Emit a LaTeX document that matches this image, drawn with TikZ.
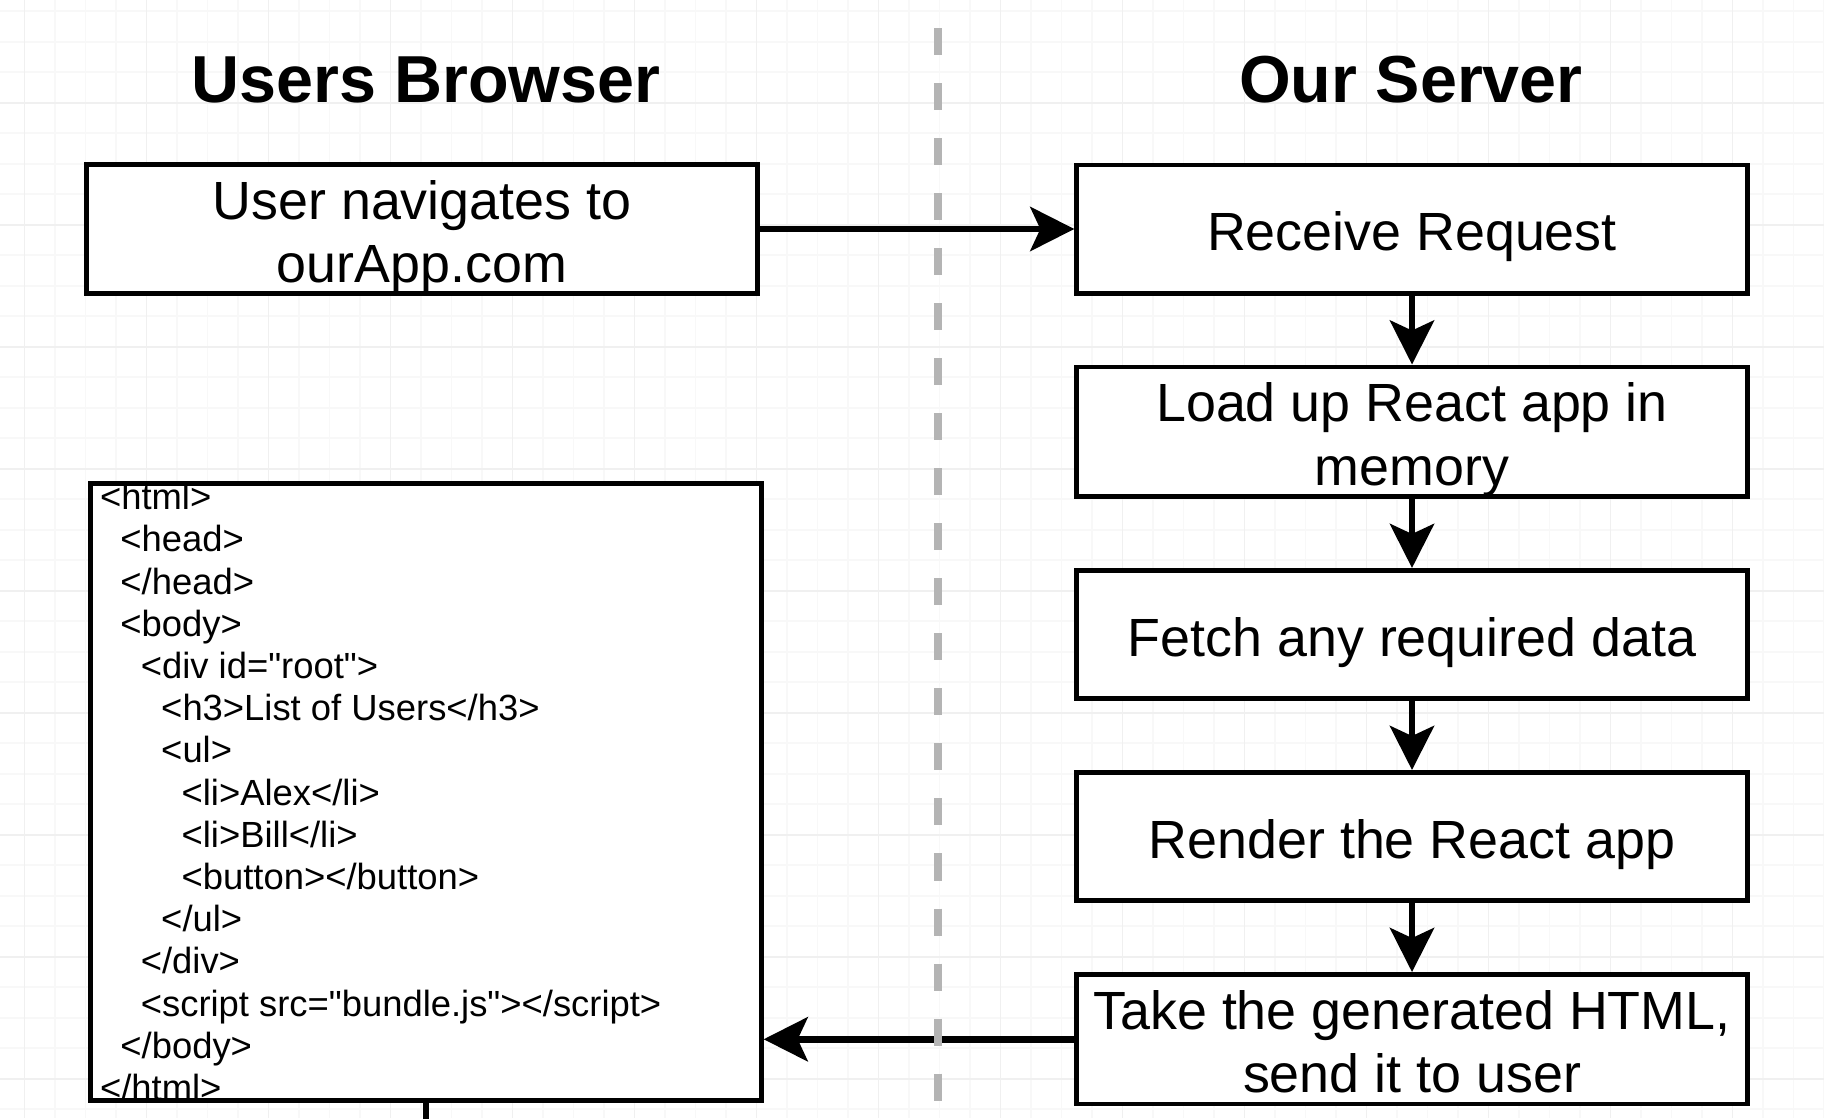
\documentclass[tikz,border=0pt]{standalone}
\usepackage{fontspec}
\setmainfont{Liberation Sans}
\newfontfamily\codefont{Liberation Sans}
\usepackage{tikz}
\usetikzlibrary{arrows.meta, positioning}
\definecolor{gridminor}{RGB}{248,248,248}
\definecolor{gridmajor}{RGB}{240,240,240}
\definecolor{dividegray}{RGB}{180,180,180}
\newlength{\htmlstep}
\setlength{\htmlstep}{5.8pt}
\newcommand{\htmlind}[1]{\hspace*{#1\htmlstep}}
\newcommand{\boxstrut}{\rule[-0.21em]{0pt}{1.23em}}

\begin{document}
\begin{tikzpicture}[x=0.01cm, y=-0.01cm,
    stepbox/.style={draw, line width=1.4pt, fill=white, minimum width=6.7cm, minimum height=1.28cm, inner sep=0pt, align=center, font=\fontsize{15.3pt}{18pt}\selectfont, execute at begin node=\boxstrut, execute at end node=\boxstrut},
    flow/.style={-{Stealth[length=0.44cm, width=0.44cm, inset=0.1cm]}, line width=1.9pt},
    heading/.style={anchor=base, font=\fontsize{18.9pt}{22pt}\selectfont\bfseries}]
        % Page and grid
        \useasboundingbox (0,0) rectangle (1824,1118);
        \fill[white] (0,0) rectangle (1824,1118);
        \foreach \gx in {24.5,55,...,1824} \draw[gridminor, line width=0.5pt] (\gx,0) -- (\gx,1118);
        \foreach \gy in {11.2,41.7,...,1118} \draw[gridminor, line width=0.5pt] (0,\gy) -- (1824,\gy);
        \foreach \gx in {24.5,146.5,...,1824} \draw[gridmajor, line width=0.5pt] (\gx,0) -- (\gx,1118);
        \foreach \gy in {102.7,224.7,...,1118} \draw[gridmajor, line width=0.5pt] (0,\gy) -- (1824,\gy);

        % Column headings
        \node[heading] (browser) at (426,102) {Users Browser};
        \node[heading] (server) at (1411,102) {Our Server};

        % Browser side
        \node[stepbox] (nav) at (422,229) {\boxstrut User navigates to\\ourApp.com};
        \node[draw, line width=1.4pt, fill=white, minimum width=6.7cm, minimum height=6.16cm] (html) at (426,792) {};
        \node[anchor=west, align=left, inner sep=0pt, font=\codefont\fontsize{10.35pt}{12pt}\selectfont] (code) at ([xshift=0.11cm]html.west) {<html>\\
            \htmlind{1}<head>\\
            \htmlind{1}</head>\\
            \htmlind{1}<body>\\
            \htmlind{2}<div id="root">\\
            \htmlind{3}<h3>List of Users</h3>\\
            \htmlind{3}<ul>\\
            \htmlind{4}<li>Alex</li>\\
            \htmlind{4}<li>Bill</li>\\
            \htmlind{4}<button></button>\\
            \htmlind{3}</ul>\\
            \htmlind{2}</div>\\
            \htmlind{2}<script src="bundle.js"></script>\\
            \htmlind{1}</body>\\
            </html>};

        % Server steps
        \node[stepbox] (recv) at (1412,229) {Receive Request};
        \node[stepbox, below=0.69cm of recv] (load) {\boxstrut Load up React app in\\memory};
        \node[stepbox, below=0.69cm of load] (fetch) {Fetch any required data};
        \node[stepbox, below=0.69cm of fetch] (render) {Render the React app};
        \node[stepbox, below=0.69cm of render] (take) {\boxstrut Take the generated HTML,\\send it to user};

        % Connections
        \draw[flow] (nav) -- (recv);
        \draw[flow] (recv) -- (load);
        \draw[flow] (load) -- (fetch);
        \draw[flow] (fetch) -- (render);
        \draw[flow] (render) -- (take);
        \draw[flow] (take.west) -- (take.west -| html.east);
        \coordinate (exit) at (426,1140);
        \draw[line width=1.9pt] (html) -- (exit);

        % Divider between browser and server
        \coordinate (divtop) at (938,28);
        \coordinate (divbot) at (938,1118);
        \draw[dividegray, line width=2pt, dash pattern=on 0.27cm off 0.28cm] (divtop) -- (divbot);
\end{tikzpicture}
\end{document}
